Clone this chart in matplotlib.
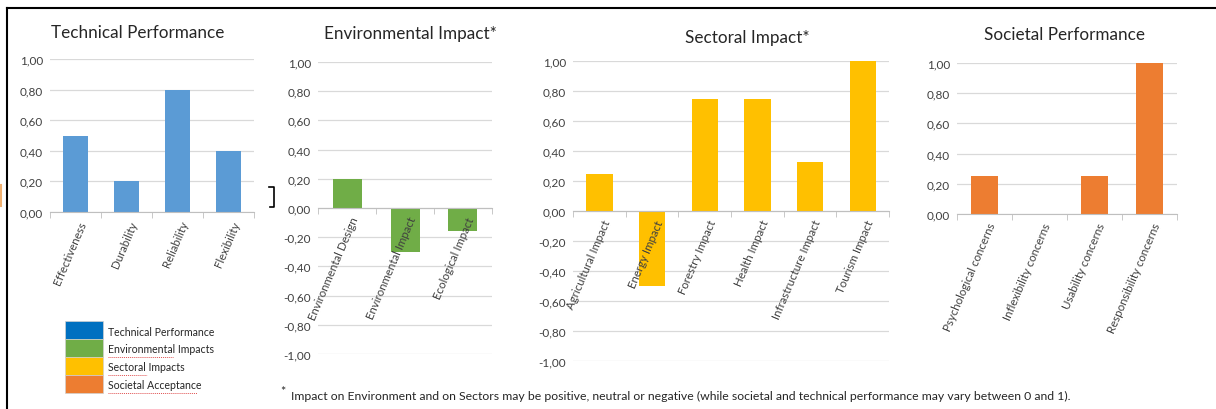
import matplotlib
matplotlib.use("Agg")
import matplotlib.pyplot as plt
from matplotlib.ticker import FuncFormatter, FixedLocator
from matplotlib.lines import Line2D
from matplotlib.patches import Rectangle

plt.rcParams['font.family'] = ['Lato', 'DejaVu Sans']

# data
tech_labels = ["Effectiveness", "Durability", "Reliability", "Flexibility"]
tech_values = [0.50, 0.20, 0.80, 0.40]

env_labels = ["Environmental Design", "Environmental Impact", "Ecological Impact"]
env_values = [0.20, -0.30, -0.16]

sect_labels = ["Agricultural Impact", "Energy Impact", "Forestry Impact",
               "Health Impact", "Infrastructure Impact", "Tourism Impact"]
sect_values = [0.25, -0.50, 0.75, 0.75, 0.33, 1.00]

soc_labels = ["Psychological concerns", "Inflexibility concerns",
              "Usability concerns", "Responsibility concerns"]
soc_values = [0.25, 0.00, 0.25, 1.00]

legend_labels = ["Technical Performance", "Environmental Impacts",
                 "Sectoral Impacts", "Societal Acceptance"]
legend_colors = ["#0070C0", "#70AD47", "#FFC000", "#ED7D31"]

W, H = 1216, 410
fig = plt.figure(figsize=(W / 100, H / 100), dpi=100)
fig.patch.set_facecolor("white")


def px_axes(x0, x1, ytop, ybot):
    return fig.add_axes([x0 / W, 1 - ybot / H, (x1 - x0) / W, (ybot - ytop) / H])


def comma_fmt(v, pos):
    return f"{v:.2f}".replace(".", ",").replace("-0,00", "0,00")


def panel(ax, title, labels, values, color, ylim, title_xy):
    n = len(labels)
    xs = list(range(n))
    ax.bar(xs, values, width=0.5, color=color, zorder=2)
    ax.set_xlim(-0.5, n - 0.5)
    ax.set_ylim(*ylim)
    ticks = [round(ylim[0] + 0.2 * i, 2) for i in range(int(round((ylim[1] - ylim[0]) / 0.2)) + 1)]
    ax.yaxis.set_major_locator(FixedLocator(ticks))
    ax.yaxis.set_major_formatter(FuncFormatter(comma_fmt))
    ax.grid(axis="y", color="#D9D9D9", linewidth=0.9)
    ax.set_axisbelow(True)
    for s in ["top", "right", "left"]:
        ax.spines[s].set_visible(False)
    ax.spines["bottom"].set_position(("data", 0))
    ax.spines["bottom"].set_color("#BFBFBF")
    ax.spines["bottom"].set_zorder(3)
    ax.set_xticks(xs)
    ax.set_xticklabels([])
    ax.set_xticks([i - 0.5 for i in range(n + 1)], minor=True)
    ax.tick_params(axis="x", which="major", length=0)
    ax.tick_params(axis="x", which="minor", length=4, color="#BFBFBF", direction="out")
    ax.tick_params(axis="y", length=0, labelsize=8.5, labelcolor="#404040", pad=5)
    # category labels on top of the bars, as in the spreadsheet chart
    for x, lab in zip(xs, labels):
        ax.annotate(lab, xy=(x, 0), xycoords="data", xytext=(2, -5),
                    textcoords="offset points", rotation=67, ha="right", va="top",
                    rotation_mode="anchor", fontsize=8.3, color="#404040",
                    annotation_clip=False, zorder=5)
    fig.text(title_xy[0] / W, 1 - title_xy[1] / H, title, ha="center", va="center",
             fontsize=12.3, color="#262626")


ax1 = px_axes(50, 254, 60, 213)
panel(ax1, "Technical Performance", tech_labels, tech_values, "#5B9BD5", (0, 1), (138, 33))

ax2 = px_axes(318, 492, 63, 355)
panel(ax2, "Environmental Impact*", env_labels, env_values, "#70AD47", (-1, 1), (410, 34))

ax3 = px_axes(573, 889, 62, 362)
panel(ax3, "Sectoral Impact*", sect_labels, sect_values, "#FFC000", (-1, 1), (747, 38))

ax4 = px_axes(957, 1177, 64, 215)
panel(ax4, "Societal Performance", soc_labels, soc_values, "#ED7D31", (0, 1), (1065, 35))

# colour key in the lower left
for i, (lab, col) in enumerate(zip(legend_labels, legend_colors)):
    y_top = 322 + i * 18
    fig.patches.append(Rectangle((65 / W, 1 - (y_top + 18) / H), 38 / W, 18 / H,
                                 transform=fig.transFigure, facecolor=col,
                                 edgecolor="#D0D0D0", linewidth=0.5))
    fig.text(108 / W, 1 - (y_top + 10) / H, lab, ha="left", va="center",
             fontsize=7.6, color="#262626")

# spell-check underlines under the key text
for x0, x1, y in [(108, 173, 358), (108, 147, 376), (108, 197, 394)]:
    fig.add_artist(Line2D([x0 / W, x1 / W], [1 - y / H, 1 - y / H], transform=fig.transFigure,
                          color="#E05050", linewidth=0.7, linestyle=(0, (1, 1))))

# footnote
fig.text(280 / W, 1 - 392 / H, "*", ha="left", va="center", fontsize=9, color="#262626")
fig.text(291 / W, 1 - 396 / H,
         "Impact on Environment and on Sectors may be positive, neutral or negative "
         "(while societal and technical performance may vary between 0 and 1).",
         ha="left", va="center", fontsize=8.8, color="#262626")

# frame lines and small artefacts of the screenshot
fig.add_artist(Line2D([7 / W, 1], [1 - 9 / H, 1 - 9 / H], transform=fig.transFigure,
                      color="black", linewidth=1.5))
fig.add_artist(Line2D([7 / W, 7 / W], [0, 1 - 9 / H], transform=fig.transFigure,
                      color="black", linewidth=1.5))
fig.add_artist(Line2D([269 / W, 274 / W, 274 / W, 270 / W],
                      [1 - 188 / H, 1 - 188 / H, 1 - 208 / H, 1 - 208 / H],
                      transform=fig.transFigure, color="black", linewidth=1.2))
fig.add_artist(Line2D([1 / W, 1 / W], [1 - 186 / H, 1 - 207 / H], transform=fig.transFigure,
                      color="#F0B070", linewidth=1.5))

fig.savefig("out.png", dpi=100)
